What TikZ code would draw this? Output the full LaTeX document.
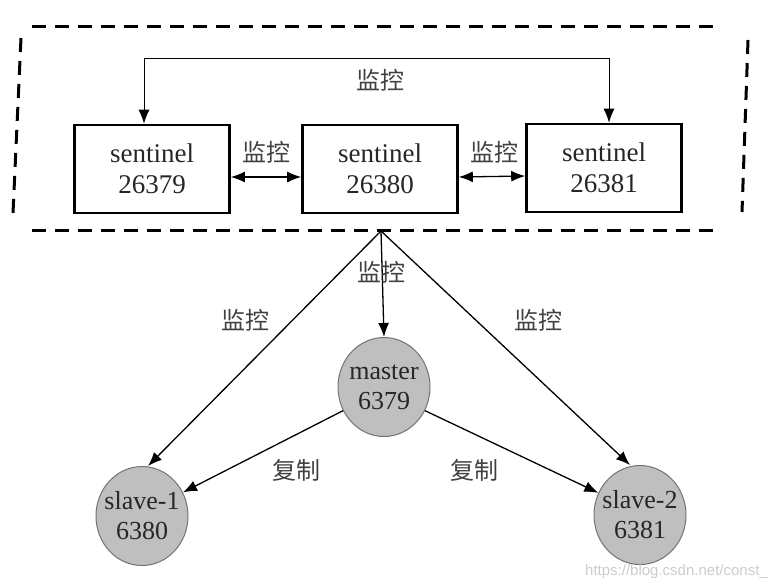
\documentclass[tikz,border=0pt]{standalone}
\usepackage{fontspec}
\setmainfont{Liberation Serif}
\newfontfamily\cjk{Noto Sans CJK SC}
\newfontfamily\wmfont{Liberation Sans}
\usetikzlibrary{arrows.meta,shapes.geometric}
\begin{document}
\begin{tikzpicture}[x=1pt,y=-1pt,
  sbox/.style={draw, line width=2.6pt, minimum width=155pt, minimum height=88pt,
    align=center, inner sep=0pt, text=black!85, font=\fontsize{27}{31}\selectfont},
  rnode/.style={ellipse, draw=black!55, line width=1pt, fill=black!25,
    minimum width=92pt, minimum height=99pt, inner sep=-6pt, align=center,
    text=black!85, font=\fontsize{26}{30}\selectfont},
  conn/.style={line width=1.3pt, -{Latex[length=14pt,width=11pt]}},
  both/.style={line width=1.3pt, {Latex[length=14pt,width=11pt]}-{Latex[length=14pt,width=11pt]}},
  lbl/.style={font=\cjk\fontsize{24}{26}\selectfont, text=black!75, inner sep=0pt},
  dashline/.style={line width=3pt, dash pattern=on 14pt off 9pt}]
\useasboundingbox (0,0) rectangle (775,584);

% dashed enclosure
\draw[dashline] (32,26) -- (720,26);
\draw[dashline] (32,230) -- (720,230);
\draw[dashline] (21,38) -- (13,213);
\draw[dashline] (748,40) -- (742,212);

% sentinels
\node[sbox] (s1) at (152,169) {sentinel\\26379};
\node[sbox] (s2) at (380,169) {sentinel\\26380};
\node[sbox] (s3) at (604,168) {sentinel\\26381};

% top monitoring arrow
\coordinate (ta) at (144,58);
\coordinate (tb) at (609,58);
\draw[both, line width=1pt] (ta |- s1.north) -- (ta) -- (tb) -- (tb |- s3.north);
\node[lbl] (l0) at (380,80) {监控};

% double arrows between sentinels
\draw[both] ([yshift=-8pt]s1.east) -- ([yshift=-8pt]s2.west);
\draw[both] ([yshift=-8pt]s2.east) -- ([yshift=-8pt]s3.west);
\node[lbl] (l1) at (266,152) {监控};
\node[lbl] (l2) at (494,152) {监控};

% redis nodes
\node[rnode] (m) at (384,387) {master\\6379};
\node[rnode] (sl1) at (142,516) {slave-1\\6380};
\node[rnode] (sl2) at (640,515) {slave-2\\6381};

% monitoring from sentinel group
\coordinate (ap) at (381,231);
\draw[conn] (ap) -- (m.north);
\draw[conn] (ap) -- ([xshift=6pt]sl1.north);
\draw[conn] (ap) -- ([xshift=-10pt]sl2.north);
\node[lbl] (l3) at (381,272) {监控};
\node[lbl] (l4) at (245,320) {监控};
\node[lbl] (l5) at (538,320) {监控};

% replication
\draw[conn] (m.210) -- (sl1.30);
\draw[conn] (m.330) -- (sl2.152);
\node[lbl] (l6) at (296,470) {复制};
\node[lbl] (l7) at (474,470) {复制};

% watermark
\node[font=\wmfont\fontsize{15}{17}\selectfont, text=black!20, anchor=east, inner sep=0pt] (wm) at (768,572) {https://blog.csdn.net/const\_};
\end{tikzpicture}
\end{document}
